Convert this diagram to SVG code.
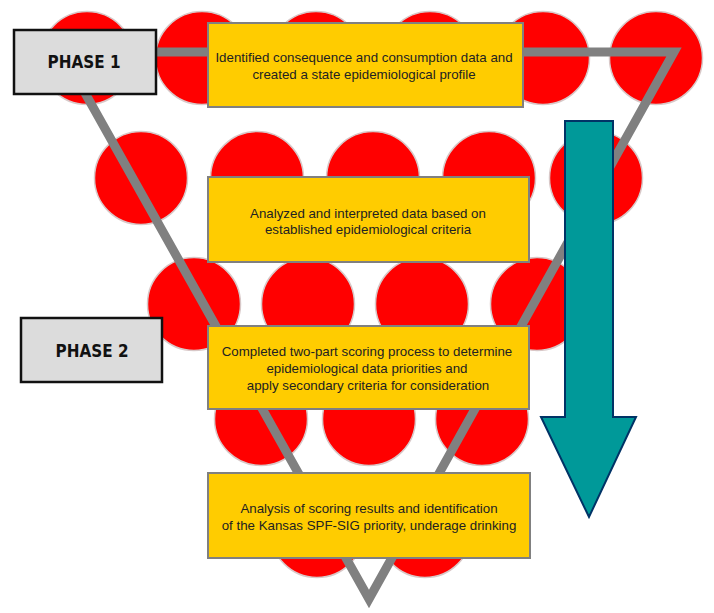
<svg xmlns="http://www.w3.org/2000/svg" width="714" height="613" viewBox="0 0 714 613">
<style>
.c{fill:#FF0000;stroke:#D8C8C8;stroke-width:1.5}
.box{fill:#FFCC00;stroke:#808080;stroke-width:2}
.t{font-family:"Liberation Sans",Arial,sans-serif;font-size:13.3px;fill:#222;text-anchor:middle}
.ph{fill:#DCDCDC;stroke:#111;stroke-width:2.5}
.pt{font-family:"DejaVu Sans",sans-serif;font-weight:bold;font-size:17px;fill:#111;text-anchor:middle}
</style>
<rect width="714" height="613" fill="#fff"/>
<g id="circles">
<circle class="c" cx="87" cy="58" r="46.5"/>
<circle class="c" cx="202" cy="58" r="46.5"/>
<circle class="c" cx="316" cy="58" r="46.5"/>
<circle class="c" cx="430" cy="58" r="46.5"/>
<circle class="c" cx="543" cy="58" r="46.5"/>
<circle class="c" cx="656" cy="58" r="46.5"/>
<circle class="c" cx="141" cy="178" r="46.5"/>
<circle class="c" cx="257" cy="178" r="46.5"/>
<circle class="c" cx="373" cy="178" r="46.5"/>
<circle class="c" cx="489" cy="178" r="46.5"/>
<circle class="c" cx="596" cy="178" r="46.5"/>
<circle class="c" cx="194" cy="304" r="46.5"/>
<circle class="c" cx="308" cy="304" r="46.5"/>
<circle class="c" cx="422" cy="304" r="46.5"/>
<circle class="c" cx="537" cy="304" r="46.5"/>
<circle class="c" cx="261" cy="419" r="46.5"/>
<circle class="c" cx="369" cy="419" r="46.5"/>
<circle class="c" cx="482" cy="419" r="46.5"/>
<circle class="c" cx="317" cy="531" r="46.5"/>
<circle class="c" cx="425" cy="531" r="46.5"/>
</g>
<g id="connectors">
<path d="M62,52 L674,52 L369,599 Z" fill="none" stroke="#808080" stroke-width="9" stroke-linejoin="miter" stroke-miterlimit="10"/>
</g>
<g id="step1">
<rect class="box" x="208" y="23" width="315" height="84"/>
<text class="t" x="364" y="62">Identified consequence and consumption data and</text>
<text class="t" x="364" y="79">created a state epidemiological profile</text>
</g>
<g id="step2">
<rect class="box" x="208" y="177" width="321" height="85"/>
<text class="t" x="368" y="218">Analyzed and interpreted data based on</text>
<text class="t" x="368" y="234">established epidemiological criteria</text>
</g>
<g id="step3">
<rect class="box" x="208" y="326" width="321" height="83"/>
<text class="t" x="367" y="356">Completed two-part scoring process to determine</text>
<text class="t" x="367" y="373">epidemiological data priorities and</text>
<text class="t" x="368" y="390">apply secondary criteria for consideration</text>
</g>
<g id="step4">
<rect class="box" x="208" y="473" width="322" height="85"/>
<text class="t" x="369" y="513">Analysis of scoring results and identification</text>
<text class="t" x="369" y="530">of the Kansas SPF-SIG priority, underage drinking</text>
</g>
<g id="phase1">
<rect class="ph" x="14" y="30" width="142" height="64"/>
<text class="pt" x="84" y="68" textLength="73" lengthAdjust="spacingAndGlyphs">PHASE 1</text>
</g>
<g id="phase2">
<rect class="ph" x="21" y="318" width="141" height="64"/>
<text class="pt" x="92" y="357" textLength="73" lengthAdjust="spacingAndGlyphs">PHASE 2</text>
</g>
<g id="arrow">
<path d="M565,121 L613,121 L613,417 L636,417 L589,517 L541,417 L565,417 Z" fill="#009999" stroke="#003366" stroke-width="2" stroke-linejoin="miter"/>
</g>
</svg>
